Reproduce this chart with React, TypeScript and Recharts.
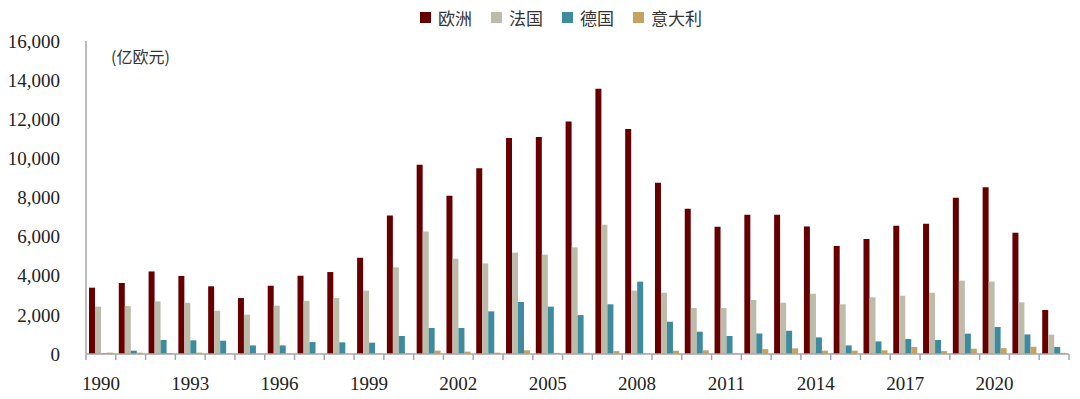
import React from 'react';
import { BarChart, Bar, XAxis, YAxis } from 'recharts';

// 1990 - 2022
const years = [
  '1990', '1991', '1992', '1993', '1994', '1995', '1996', '1997', '1998', '1999',
  '2000', '2001', '2002', '2003', '2004', '2005', '2006', '2007', '2008', '2009',
  '2010', '2011', '2012', '2013', '2014', '2015', '2016', '2017', '2018', '2019',
  '2020', '2021', '2022',
];

const europe = [
  3390, 3630, 4220, 3990, 3460, 2860, 3490, 4000, 4190, 4920,
  7080, 9680, 8090, 9490, 11040, 11090, 11890, 13560, 11500, 8760,
  7430, 6500, 7120, 7120, 6520, 5520, 5880, 6560, 6660, 7990,
  8520, 6200, 2250,
];

const france = [
  2420, 2450, 2690, 2620, 2210, 2010, 2470, 2720, 2860, 3240,
  4430, 6260, 4870, 4630, 5180, 5080, 5450, 6610, 3240, 3130,
  2350, 2350, 2760, 2620, 3080, 2540, 2900, 2980, 3130, 3750,
  3700, 2640, 990,
];

const germany = [
  40, 170, 715, 700, 680, 440, 440, 610, 595, 580,
  920, 1330, 1330, 2180, 2660, 2420, 1990, 2540, 3700, 1650,
  1140, 920, 1050, 1190, 850, 440, 645, 765, 715, 1040,
  1380, 1000, 360,
];

const italy = [
  70, 70, 50, 70, 20, 0, 0, 0, 0, 30,
  30, 170, 120, 70, 190, 60, 60, 150, 20, 170,
  190, 30, 250, 290, 170, 170, 190, 360, 150, 270,
  300, 370, 60,
];

const yTicks = [0, 2000, 4000, 6000, 8000, 10000, 12000, 14000, 16000];

const series = [
  { key: 'europe', name: '欧洲', color: '#660000' },
  { key: 'france', name: '法国', color: '#BDBBAA' },
  { key: 'germany', name: '德国', color: '#3F8B9E' },
  { key: 'italy', name: '意大利', color: '#C6A261' },
];

const data = years.map((year, i) => ({
  year,
  europe: europe[i],
  france: france[i],
  germany: germany[i],
  italy: italy[i],
}));

const W = 1080;
const H = 399;
const LEFT = 86;
const RIGHT = 11;
const BAND = (W - LEFT - RIGHT) / years.length;
const AXIS_COLOR = '#A6A6A6';
const SERIF = '"Liberation Serif", "DejaVu Serif", serif';
const CJK = '"Noto Sans CJK SC", sans-serif';

function YearTick({ x, y, payload, index }: any) {
  const year = Number(payload.value);
  const showLabel = (year - 1990) % 3 === 0;
  const isLast = index === years.length - 1;
  return (
    <g>
      <line x1={x - BAND / 2} x2={x - BAND / 2} y1={y} y2={y + 6} stroke={AXIS_COLOR} strokeWidth={1.5} />
      {isLast && (
        <line x1={x + BAND / 2} x2={x + BAND / 2} y1={y} y2={y + 6} stroke={AXIS_COLOR} strokeWidth={1.5} />
      )}
      {showLabel && (
        <text x={x} y={y + 36} textAnchor="middle" fill="#222" style={{ fontSize: 19, fontFamily: SERIF }}>
          {payload.value}
        </text>
      )}
    </g>
  );
}

function TopLegend() {
  return (
    <div
      style={{
        position: 'absolute',
        top: 5,
        left: 420,
        display: 'flex',
        alignItems: 'center',
        fontFamily: CJK,
        fontSize: 17,
        color: '#333',
      }}
    >
      {series.map((s) => (
        <div key={s.key} style={{ display: 'flex', alignItems: 'center', marginRight: 19 }}>
          <span style={{ display: 'inline-block', width: 11, height: 11, background: s.color, marginRight: 7 }} />
          <span>{s.name}</span>
        </div>
      ))}
    </div>
  );
}

export default function App() {
  return (
    <div style={{ position: 'relative', width: W, height: H, background: '#fff' }}>
      <style>{'body{margin:0;}'}</style>
      <TopLegend />
      <div
        style={{
          position: 'absolute',
          left: 111,
          top: 44,
          fontFamily: CJK,
          fontSize: 16,
          color: '#333',
        }}
      >
        (亿欧元)
      </div>
      <BarChart
        width={W}
        height={H}
        data={data}
        margin={{ top: 41, right: RIGHT, left: 0, bottom: 0 }}
        barGap={0}
        barSize={6}
      >
        <XAxis
          dataKey="year"
          interval={0}
          height={45}
          tickSize={0}
          tickMargin={0}
          tickLine={false}
          axisLine={{ stroke: AXIS_COLOR, strokeWidth: 1.5 }}
          tick={<YearTick />}
        />
        <YAxis
          width={LEFT}
          domain={[0, 16000]}
          ticks={yTicks}
          interval={0}
          tickSize={0}
          tickMargin={26}
          tickLine={false}
          axisLine={{ stroke: AXIS_COLOR, strokeWidth: 1.5 }}
          tickFormatter={(v: number) => v.toLocaleString('en-US')}
          tick={{ fill: '#222', fontSize: 19, fontFamily: SERIF }}
        />
        {series.map((s) => (
          <Bar
            key={s.key}
            dataKey={s.key}
            name={s.name}
            fill={s.color}
            barSize={6}
            isAnimationActive={false}
          />
        ))}
      </BarChart>
    </div>
  );
}
